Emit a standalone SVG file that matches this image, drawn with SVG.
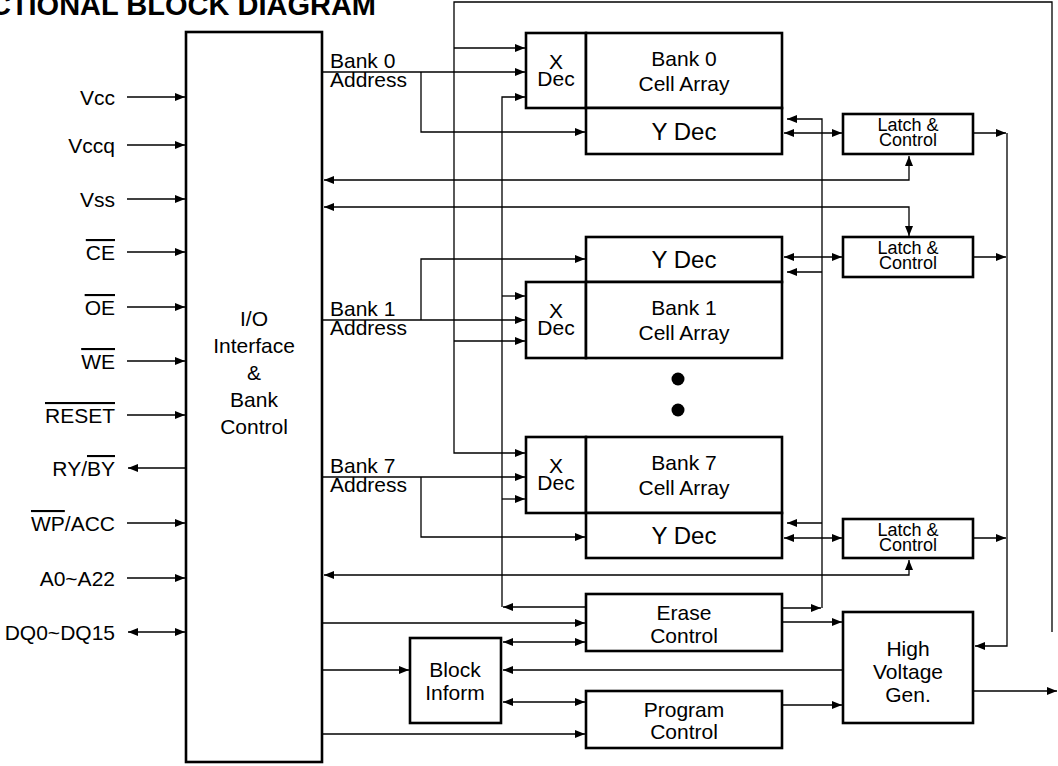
<svg xmlns="http://www.w3.org/2000/svg" width="1058" height="766" viewBox="0 0 1058 766">
<style>
text{font-family:"Liberation Sans",Arial,sans-serif;fill:#000}
.lb{font-size:21px}
.c{text-anchor:middle}
.e{text-anchor:end}
.yd{font-size:24px;text-anchor:middle}
.lt{font-size:18px;text-anchor:middle}
.bx{fill:#fff;stroke:#000;stroke-width:2.6}
.ln{fill:none;stroke:#000;stroke-width:1.3}
.a{marker-end:url(#ah)}
.b{marker-start:url(#ah);marker-end:url(#ah)}
.ov{text-decoration:overline}
</style>
<defs>
<marker id="ah" viewBox="0 0 10 8" refX="10" refY="4" markerWidth="10" markerHeight="8" orient="auto-start-reverse" markerUnits="userSpaceOnUse"><path d="M0,0 L10,4 L0,8 z" fill="#000"/></marker>
</defs>
<rect width="1058" height="766" fill="#fff"/>
<text x="376" y="15" class="e" font-size="29" font-weight="bold">CTIONAL BLOCK DIAGRAM</text>

<g id="connectors">
<path class="ln a" d="M127,97 H185"/>
<path class="ln a" d="M127,145 H185"/>
<path class="ln a" d="M127,199 H185"/>
<path class="ln a" d="M127,252 H185"/>
<path class="ln a" d="M127,307 H185"/>
<path class="ln a" d="M127,361 H185"/>
<path class="ln a" d="M127,415 H185"/>
<path class="ln a" d="M186,468 H128"/>
<path class="ln a" d="M127,523 H185"/>
<path class="ln a" d="M127,578 H185"/>
<path class="ln b" d="M128,632 H185"/>

<path class="ln a" d="M322,72 H525"/>
<path class="ln a" d="M421,72 V132 H585"/>
<path class="ln a" d="M322,320 H525"/>
<path class="ln a" d="M421,320 V259 H585"/>
<path class="ln a" d="M322,477 H525"/>
<path class="ln a" d="M421,477 V537 H585"/>

<path class="ln a" d="M1052,632 V2 H454 V453 H525"/>
<path class="ln a" d="M454,48 H525"/>
<path class="ln a" d="M454,341 H525"/>

<path class="ln a" d="M585,607 H503"/>
<path class="ln a" d="M502,607 V97 H525"/>
<path class="ln a" d="M502,296 H525"/>
<path class="ln a" d="M502,499 H525"/>

<path class="ln b" d="M784,133 H842"/>
<path class="ln b" d="M784,257 H842"/>
<path class="ln b" d="M784,538 H842"/>

<path class="ln a" d="M782,608 H821"/>
<path class="ln a" d="M822,608 V119 H787"/>
<path class="ln a" d="M822,272 H787"/>
<path class="ln a" d="M822,523 H787"/>

<path class="ln a" d="M973,133 H1006"/>
<path class="ln a" d="M973,257 H1006"/>
<path class="ln a" d="M973,538 H1006"/>
<path class="ln a" d="M1007,133 V646 H975"/>

<path class="ln b" d="M324,180 H909 V156"/>
<path class="ln b" d="M324,207 H909 V236"/>
<path class="ln b" d="M324,575 H909 V560"/>

<path class="ln a" d="M322,623 H585"/>
<path class="ln a" d="M782,622 H842"/>
<path class="ln b" d="M503,642 H585"/>
<path class="ln a" d="M322,670 H409"/>
<path class="ln a" d="M843,670 H503"/>
<path class="ln b" d="M503,702 H585"/>
<path class="ln a" d="M322,734 H585"/>
<path class="ln a" d="M782,705 H842"/>
<path class="ln a" d="M973,691 H1057"/>
</g>

<g id="pins">
<text class="lb e" x="115" y="105">Vcc</text>
<text class="lb e" x="115" y="153">Vccq</text>
<text class="lb e" x="115" y="207">Vss</text>
<text class="lb e ov" x="115" y="260">CE</text>
<text class="lb e ov" x="115" y="315">OE</text>
<text class="lb e ov" x="115" y="369">WE</text>
<text class="lb e ov" x="115" y="423">RESET</text>
<text class="lb e" x="115" y="476">RY/<tspan class="ov">BY</tspan></text>
<text class="lb e" x="115" y="531"><tspan class="ov">WP</tspan>/ACC</text>
<text class="lb e" x="115" y="586">A0~A22</text>
<text class="lb e" x="115" y="640">DQ0~DQ15</text>
</g>

<g id="io">
<rect class="bx" x="186" y="32" width="136" height="730"/>
<text class="lb c" x="254" y="326">I/O</text>
<text class="lb c" x="254" y="353">Interface</text>
<text class="lb c" x="254" y="380">&amp;</text>
<text class="lb c" x="254" y="407">Bank</text>
<text class="lb c" x="254" y="434">Control</text>
</g>

<g id="addr-labels">
<text class="lb" x="330" y="68">Bank 0</text>
<text class="lb" x="330" y="87">Address</text>
<text class="lb" x="330" y="316">Bank 1</text>
<text class="lb" x="330" y="335">Address</text>
<text class="lb" x="330" y="473">Bank 7</text>
<text class="lb" x="330" y="492">Address</text>
</g>

<g id="bank0">
<rect class="bx" x="526" y="33" width="60" height="75"/>
<rect class="bx" x="586" y="33" width="196" height="75"/>
<rect class="bx" x="586" y="108" width="196" height="46"/>
<text class="lb c" x="556" y="69">X</text>
<text class="lb c" x="556" y="86">Dec</text>
<text class="lb c" x="684" y="66">Bank 0</text>
<text class="lb c" x="684" y="91">Cell Array</text>
<text class="yd" x="684" y="140">Y Dec</text>
</g>

<g id="bank1">
<rect class="bx" x="586" y="237" width="196" height="45"/>
<rect class="bx" x="526" y="282" width="60" height="76"/>
<rect class="bx" x="586" y="282" width="196" height="76"/>
<text class="yd" x="684" y="268">Y Dec</text>
<text class="lb c" x="556" y="318">X</text>
<text class="lb c" x="556" y="335">Dec</text>
<text class="lb c" x="684" y="315">Bank 1</text>
<text class="lb c" x="684" y="340">Cell Array</text>
</g>

<g id="dots">
<circle cx="678" cy="379" r="6.5"/>
<circle cx="678" cy="410" r="6.5"/>
</g>

<g id="bank7">
<rect class="bx" x="526" y="437" width="60" height="76"/>
<rect class="bx" x="586" y="437" width="196" height="76"/>
<rect class="bx" x="586" y="513" width="196" height="45"/>
<text class="lb c" x="556" y="473">X</text>
<text class="lb c" x="556" y="490">Dec</text>
<text class="lb c" x="684" y="470">Bank 7</text>
<text class="lb c" x="684" y="495">Cell Array</text>
<text class="yd" x="684" y="544">Y Dec</text>
</g>

<g id="latch0">
<rect class="bx" x="843" y="114" width="130" height="40"/>
<text class="lt" x="908" y="131">Latch &amp;</text>
<text class="lt" x="908" y="146">Control</text>
</g>
<g id="latch1">
<rect class="bx" x="843" y="237" width="130" height="40"/>
<text class="lt" x="908" y="254">Latch &amp;</text>
<text class="lt" x="908" y="269">Control</text>
</g>
<g id="latch7">
<rect class="bx" x="843" y="519" width="130" height="39"/>
<text class="lt" x="908" y="536">Latch &amp;</text>
<text class="lt" x="908" y="551">Control</text>
</g>

<g id="erase">
<rect class="bx" x="586" y="594" width="196" height="57"/>
<text class="lb c" x="684" y="620">Erase</text>
<text class="lb c" x="684" y="643">Control</text>
</g>
<g id="block">
<rect class="bx" x="410" y="638" width="91" height="85"/>
<text class="lb c" x="455" y="677">Block</text>
<text class="lb c" x="455" y="700">Inform</text>
</g>
<g id="program">
<rect class="bx" x="586" y="691" width="196" height="57"/>
<text class="lb c" x="684" y="717">Program</text>
<text class="lb c" x="684" y="739">Control</text>
</g>
<g id="hv">
<rect class="bx" x="843" y="612" width="130" height="111"/>
<text class="lb c" x="908" y="656">High</text>
<text class="lb c" x="908" y="679">Voltage</text>
<text class="lb c" x="908" y="702">Gen.</text>
</g>
</svg>
